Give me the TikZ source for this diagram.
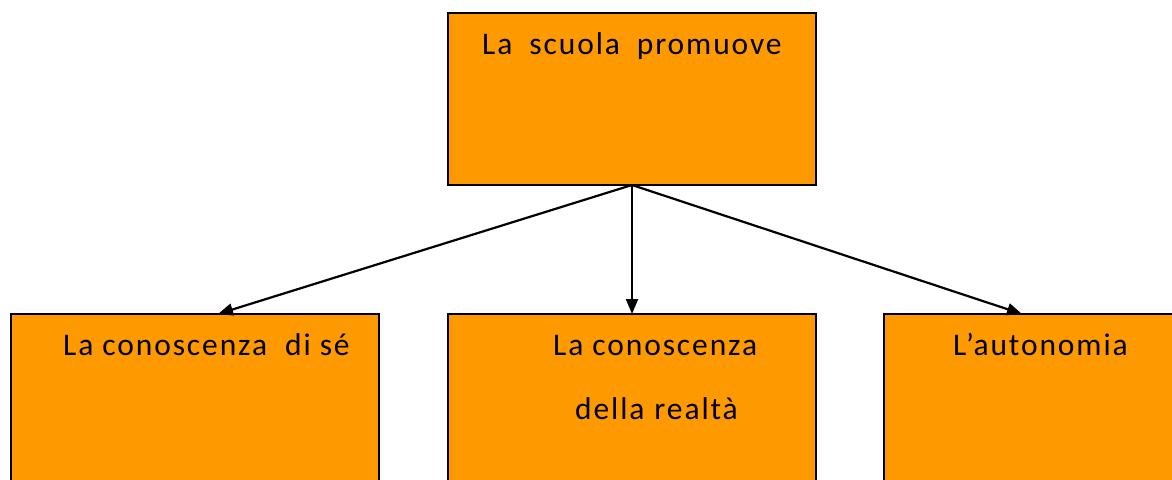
\documentclass[tikz,border=0pt]{standalone}
\usepackage{fontspec}
\setmainfont{Carlito}[LetterSpace=6]
\usetikzlibrary{arrows.meta}
\definecolor{boxorange}{RGB}{255,153,0}
\tikzset{
  box/.style={draw=black, line width=1.5pt, fill=boxorange, inner sep=0pt, outer sep=0pt},
  lbl/.style={anchor=base west, inner sep=0pt, font=\fontsize{31.5}{37}\selectfont},
  conn/.style={line width=2.2pt, -{Triangle[length=15pt,width=12pt]}}
}
\begin{document}
\begin{tikzpicture}[x=1pt,y=-1pt]
\useasboundingbox (0,0) rectangle (1172,479);
\clip (0,0) rectangle (1172,479);
\node[box, minimum width=368pt, minimum height=172pt, anchor=north west] (top) at (448,13) {};
\node[box, minimum width=368pt, minimum height=200pt, anchor=north west] (left) at (11,314) {};
\node[box, minimum width=368pt, minimum height=200pt, anchor=north west] (mid) at (448,314) {};
\node[box, minimum width=368pt, minimum height=200pt, anchor=north west] (right) at (884,314) {};
\node[lbl] (ttop) at (482,54) {La\hspace{8pt} scuola\hspace{8pt} promuove};
\node[lbl] (tleft) at (63,355) {La conoscenza\hspace{9pt} di sé};
\node[lbl] (tmid1) at (553,355) {La conoscenza};
\node[lbl] (tmid2) at (575,419) {della\hspace{1pt} realtà};
\node[lbl] (tright) at (953,355) {L’autonomia};
\coordinate (lt) at ([xshift=23pt]left.north);
\coordinate (rt) at ([xshift=-46pt]right.north);
\draw[conn] (top.south) -- (lt);
\draw[conn] (top.south) -- (mid.north);
\draw[conn] (top.south) -- (rt);
\end{tikzpicture}
\end{document}
